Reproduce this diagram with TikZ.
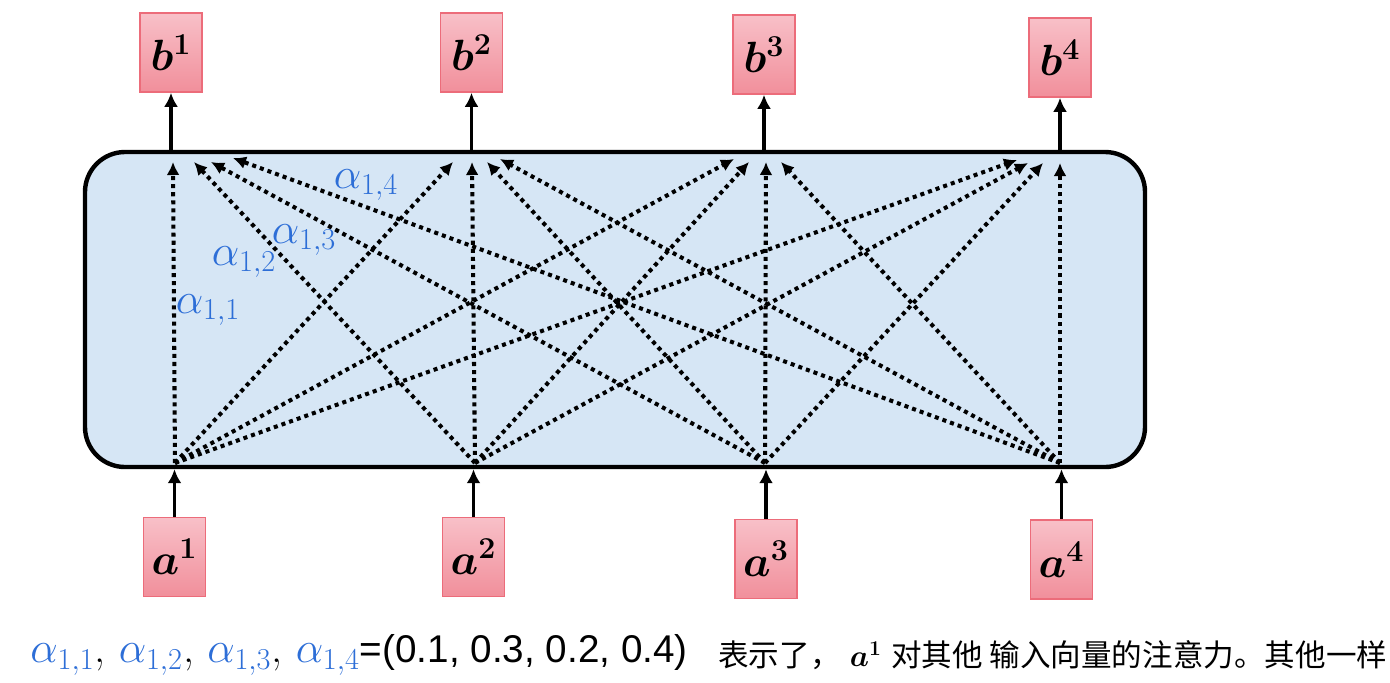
\documentclass[tikz,border=0pt]{standalone}
\usepackage{amsmath,bm}
\usepackage{fontspec}
\newfontfamily\cjk{Noto Sans CJK SC}
\newfontfamily\arial{Liberation Sans}
\usepackage{tikz}
\usetikzlibrary{arrows.meta, positioning, calc}
\definecolor{ink}{HTML}{000000}
\definecolor{pinktop}{RGB}{248,192,200}
\definecolor{pinkbottom}{RGB}{241,143,155}
\definecolor{pinkedge}{RGB}{236,108,122}
\definecolor{paleblue}{RGB}{214,230,245}
\definecolor{alphablue}{RGB}{45,110,215}

\begin{document}
\begin{tikzpicture}[
  vecbox/.style={draw=pinkedge, line width=0.9pt, top color=pinktop, bottom color=pinkbottom,
                 minimum width=1.24cm, minimum height=1.58cm, inner sep=0pt,
                 font=\fontsize{25}{29}\selectfont},
  flow/.style={-{Latex[length=2.8mm, width=2.8mm]}, line width=2.2pt},
  attn/.style={-{Latex[length=2.6mm, width=2.6mm]}, line width=2.3pt, dash pattern=on 2.3pt off 2.3pt},
  wlabel/.style={text=alphablue, font=\fontsize{23}{27}\selectfont, inner sep=0pt},
]
\useasboundingbox (0,0) rectangle (27.8,-13.64);

% self-attention block
\node[draw=ink, line width=2.5pt, rounded corners=0.8cm, fill=paleblue,
      minimum width=21.2cm, minimum height=6.3cm] (attnbox) at (12.3,-6.19) {};

% outputs
\node[vecbox] (b1) at (3.42,-1.05)  {$\bm{b}^{\bm{1}}$};
\node[vecbox] (b2) at (9.43,-1.05)  {$\bm{b}^{\bm{2}}$};
\node[vecbox] (b3) at (15.28,-1.09) {$\bm{b}^{\bm{3}}$};
\node[vecbox] (b4) at (21.2,-1.15)  {$\bm{b}^{\bm{4}}$};

% inputs
\node[vecbox] (a1) at (3.49,-11.14)  {$\bm{a}^{\bm{1}}$};
\node[vecbox] (a2) at (9.47,-11.14)  {$\bm{a}^{\bm{2}}$};
\node[vecbox] (a3) at (15.32,-11.18) {$\bm{a}^{\bm{3}}$};
\node[vecbox] (a4) at (21.23,-11.19) {$\bm{a}^{\bm{4}}$};

% points inside the block
\coordinate (s1) at (3.5,-9.26);
\coordinate (s2) at (9.5,-9.26);
\coordinate (s3) at (15.3,-9.26);
\coordinate (s4) at (21.2,-9.26);
\coordinate (t1) at (3.46,-3.24);
\coordinate (t2) at (9.44,-3.24);
\coordinate (t3) at (15.32,-3.24);
\coordinate (t4) at (21.2,-3.26);

% solid arrows in and out
\draw[flow] (a1.north) -- (a1.north |- attnbox.south);
\draw[flow] (a2.north) -- (a2.north |- attnbox.south);
\draw[flow] (a3.north) -- (a3.north |- attnbox.south);
\draw[flow] (a4.north) -- (a4.north |- attnbox.south);
\draw[flow] (b1.south |- attnbox.north) -- (b1.south);
\draw[flow] (b2.south |- attnbox.north) -- (b2.south);
\draw[flow] (b3.south |- attnbox.north) -- (b3.south);
\draw[flow] (b4.south |- attnbox.north) -- (b4.south);

% attention weights, towards b1
\draw[attn] (s1) -- (t1);
\draw[attn] (s2) -- ([xshift=0.42cm]t1);
\draw[attn] (s3) -- ([xshift=0.76cm]t1);
\draw[attn] (s4) -- ([xshift=1.2cm,yshift=0.08cm]t1);
% towards b2
\draw[attn] (s1) -- ([xshift=-0.38cm]t2);
\draw[attn] (s2) -- (t2);
\draw[attn] (s3) -- ([xshift=0.3cm]t2);
\draw[attn] (s4) -- ([xshift=0.56cm,yshift=0.06cm]t2);
% towards b3
\draw[attn] (s1) -- ([xshift=-0.64cm,yshift=0.06cm]t3);
\draw[attn] (s2) -- ([xshift=-0.34cm]t3);
\draw[attn] (s3) -- (t3);
\draw[attn] (s4) -- ([xshift=0.3cm]t3);
% towards b4
\draw[attn] (s1) -- ([xshift=-0.86cm,yshift=0.06cm]t4);
\draw[attn] (s2) -- ([xshift=-0.64cm]t4);
\draw[attn] (s3) -- ([xshift=-0.34cm]t4);
\draw[attn] (s4) -- (t4);

% weight labels
\node[wlabel] (w11) at (4.16,-6.2) {$\alpha_{1,1}$};
\node[wlabel] (w12) at (4.88,-5.24) {$\alpha_{1,2}$};
\node[wlabel] (w13) at (6.08,-4.8)  {$\alpha_{1,3}$};
\node[wlabel] (w14) at (7.32,-3.7)  {$\alpha_{1,4}$};

% caption
\node[anchor=west, inner sep=0pt, font=\fontsize{25}{29}\selectfont] (weights) at (0.6,-13.1)
  {\textcolor{alphablue}{$\alpha_{1,1}$}, \textcolor{alphablue}{$\alpha_{1,2}$}, \textcolor{alphablue}{$\alpha_{1,3}$}, \textcolor{alphablue}{$\alpha_{1,4}$}{\fontsize{22}{26}\selectfont\arial =(0.1, 0.3, 0.2, 0.4)}};
\node[anchor=west, inner sep=0pt, font=\fontsize{17.4}{20}\selectfont] (meaning) at (14.36,-13.1)
  {{\cjk 表示了，} $\bm{a}^{\bm{1}}$ {\cjk 对其他 输入向量的注意力。其他一样}};
\end{tikzpicture}
\end{document}
